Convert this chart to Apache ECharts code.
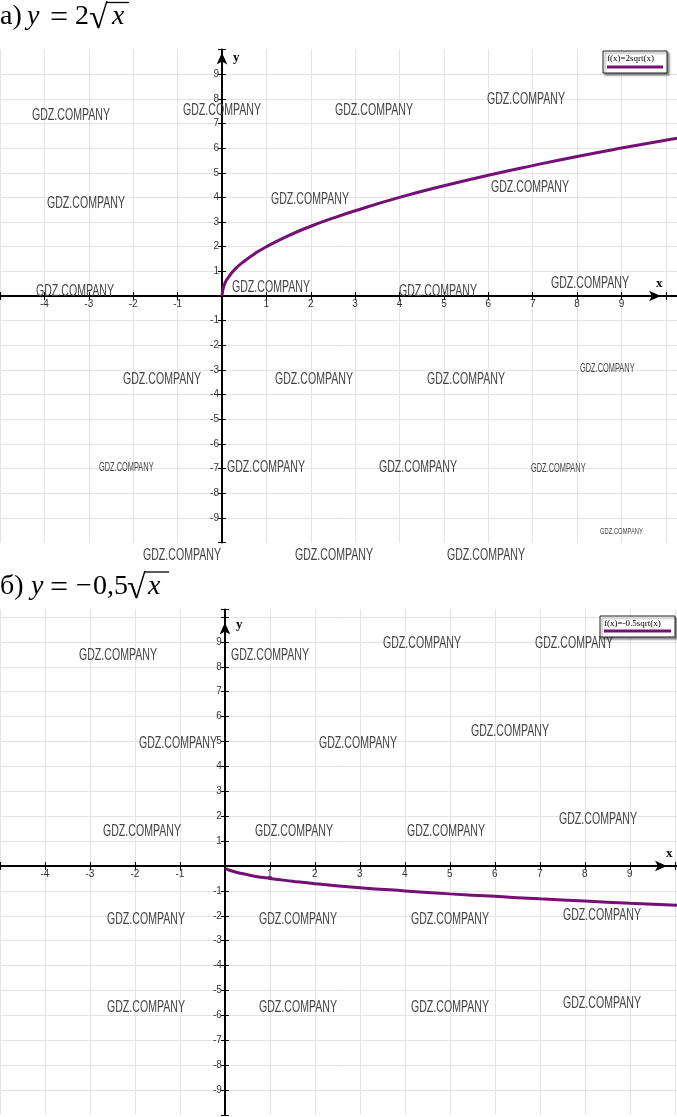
<!DOCTYPE html>
<html>
<head>
<meta charset="utf-8">
<script src="https://cdn.jsdelivr.net/npm/echarts@6/dist/echarts.min.js"></script>
<style>
html, body { margin: 0; padding: 0; background: #fff; }
#chart { width: 677px; height: 1117px; }
</style>
</head>
<body>
<div id="chart"></div>
<script>
// а) y = 2√x
var xsA = [0, 0.05, 0.15, 0.3, 0.5, 0.75, 1, 1.5, 2, 2.5, 3, 4, 5, 6, 7, 8, 9, 10.25];
var ysA = [0, 0.45, 0.77, 1.1, 1.41, 1.73, 2, 2.45, 2.83, 3.16, 3.46, 4, 4.47, 4.9, 5.29, 5.66, 6, 6.4];

// б) y = -0,5√x
var xsB = [0.02, 0.1, 0.3, 0.6, 1, 1.5, 2, 3, 4, 5, 6, 7, 8, 9, 10.05];
var ysB = [-0.1, -0.17, -0.27, -0.39, -0.5, -0.61, -0.71, -0.87, -1, -1.12, -1.22, -1.32, -1.41, -1.5, -1.58];

// tick labels that are printed
var xLabels = [-4, -3, -2, -1, 1, 2, 3, 4, 5, 6, 7, 8, 9];
var yLabels = [-9, -8, -7, -6, -5, -4, -3, -2, -1, 1, 2, 3, 4, 5, 6, 7, 8, 9];

var legendNames = ['f(x)=2sqrt(x)', 'f(x)=-0.5sqrt(x)'];

// watermark spots: [left, middle y, size]
var marks = [
  [32, 115, 1], [183, 110, 1], [335, 110, 1], [487, 99, 1],
  [47, 203, 1], [271, 199, 1], [491, 187, 1],
  [36, 291, 1], [232, 287, 1], [399, 291, 1], [551, 283, 1],
  [123, 379, 1], [275, 379, 1], [427, 379, 1], [580, 369, 0.7],
  [99, 468, 0.7], [227, 467, 1], [379, 467, 1], [531, 469, 0.7],
  [600, 531, 0.55],
  [143, 555, 1], [295, 555, 1], [447, 555, 1],
  [79, 655, 1], [231, 655, 1], [383, 643, 1], [535, 643, 1],
  [139, 743, 1], [319, 743, 1], [471, 731, 1],
  [103, 831, 1], [255, 831, 1], [407, 831, 1], [559, 819, 1],
  [107, 919, 1], [259, 919, 1], [411, 919, 1], [563, 915, 1],
  [107, 1007, 1], [259, 1007, 1], [411, 1007, 1], [563, 1003, 1]
];

var W = 677;
var AXIS = '#000';
var GRIDC = '#e4e4e4';
var CURVE = '#740f74';
var tickFont = 'Liberation Sans Narrow, Liberation Sans, sans-serif';
var serif = 'Liberation Serif, DejaVu Serif, serif';

// panel geometry
var panels = [
  { top: 49.5, height: 493, xMin: -5, xMax: 10.25, yMin: -10, yMax: 10, xArrow: -16, yArrow: -3 },
  { top: 609.5, height: 505.5, xMin: -5, xMax: 10.05, yMin: -10, yMax: 10.3, xArrow: -10, yArrow: -13 }
];

function pairs(xs, ys) {
  return xs.map(function (x, i) { return [x, ys[i]]; });
}

var grids = [], xAxes = [], yAxes = [];
panels.forEach(function (p, g) {
  var zeroX = W * (0 - p.xMin) / (p.xMax - p.xMin);
  var zeroY = p.top + p.height * (p.yMax - 0) / (p.yMax - p.yMin);
  grids.push({ left: 0, right: 0, top: p.top, height: p.height, outerBoundsMode: 'none' });
  var tick = { length: 4, lineStyle: { color: AXIS, width: 1 } };
  var xBase = { gridIndex: g, type: 'value', min: p.xMin, max: p.xMax, interval: 1 };
  var yBase = { gridIndex: g, type: 'value', min: p.yMin, max: p.yMax, interval: 1 };
  xAxes.push(Object.assign({}, xBase, {
    position: 'bottom', offset: -(p.top + p.height - zeroY),
    axisLine: { onZero: false, lineStyle: { color: AXIS, width: 2 },
      symbol: ['none', 'arrow'], symbolSize: [8, 12], symbolOffset: [0, p.xArrow] },
    axisTick: tick,
    axisLabel: { margin: 3, color: '#333', fontSize: 10, fontFamily: tickFont,
      formatter: function (v) { return xLabels.indexOf(v) >= 0 ? String(v) : ''; } },
    splitLine: { show: true, lineStyle: { color: GRIDC, width: 1 } }
  }));
  xAxes.push(Object.assign({}, xBase, {
    position: 'top', offset: -(zeroY - p.top),
    axisLine: { onZero: false, show: false },
    axisTick: tick, axisLabel: { show: false }, splitLine: { show: false }
  }));
  yAxes.push(Object.assign({}, yBase, {
    position: 'left', offset: -zeroX,
    axisLine: { onZero: false, lineStyle: { color: AXIS, width: 2 },
      symbol: ['none', 'arrow'], symbolSize: [8, 12], symbolOffset: [0, p.yArrow] },
    axisTick: tick,
    axisLabel: { margin: 3, color: '#333', fontSize: 10, fontFamily: tickFont,
      formatter: function (v) { return yLabels.indexOf(v) >= 0 ? String(v) : ''; } },
    splitLine: { show: true, showMinLine: false, showMaxLine: false, lineStyle: { color: GRIDC, width: 1 } }
  }));
  yAxes.push(Object.assign({}, yBase, {
    position: 'right', offset: -(W - zeroX),
    axisLine: { onZero: false, show: false },
    axisTick: tick, axisLabel: { show: false }, splitLine: { show: false }
  }));
});

// measure watermark text so it can be squeezed to the narrow look
var ctx = document.createElement('canvas').getContext('2d');
var wmFont = '17px ' + tickFont;
ctx.font = wmFont;
var wmW = ctx.measureText('GDZ.COMPANY').width;

var graphics = [];
marks.forEach(function (m) {
  var s = m[2];
  graphics.push({
    type: 'text', x: m[0], y: m[1], scaleX: 78 * s / wmW, scaleY: s, z: 50, silent: true,
    style: { text: 'GDZ.COMPANY', fill: '#444', font: wmFont, textAlign: 'left', textVerticalAlign: 'middle' }
  });
});

// formula headings, piece by piece: [text, left, italic, size]
function heading(y, pieces, bar) {
  pieces.forEach(function (pc) {
    graphics.push({
      type: 'text', x: pc[1], y: y + (pc[3] > 28 ? 2 : 0), z: 60,
      style: { text: pc[0], fill: '#000', textVerticalAlign: 'middle',
        font: (pc[2] ? 'italic ' : '') + pc[3] + 'px ' + serif }
    });
  });
  graphics.push({ type: 'line', z: 60, shape: { x1: bar[0], y1: bar[2], x2: bar[1], y2: bar[2] },
    style: { stroke: '#000', lineWidth: 1.3 } });
}
heading(17, [['а)', 0, false, 28], ['y', 27, true, 28], ['=', 50, false, 32], ['2', 75, false, 28],
  ['√', 89, false, 34], ['x', 112, true, 28]], [106, 129, 2.5]);
heading(587, [['б)', 0, false, 28], ['y', 31, true, 28], ['=', 50, false, 32], ['−', 76, false, 28],
  ['0,5', 93, false, 28], ['√', 127, false, 34], ['x', 148, true, 28]], [144, 169, 572]);

function legendBox(x, y, w, h, text) {
  graphics.push({ type: 'rect', z: 60, shape: { x: x, y: y, width: w, height: h },
    style: { fill: '#fff', stroke: '#222', lineWidth: 1, shadowColor: 'rgba(0,0,0,0.45)', shadowOffsetX: 2, shadowOffsetY: 2, shadowBlur: 2 } });
  graphics.push({ type: 'text', z: 61, x: x + 4, y: y + 8,
    style: { text: text, font: '9px ' + serif, fill: '#000', textVerticalAlign: 'middle' } });
  graphics.push({ type: 'line', z: 61, shape: { x1: x + 4, y1: y + h - 6, x2: x + w - 4, y2: y + h - 6 },
    style: { stroke: CURVE, lineWidth: 3 } });
}
legendBox(603, 51, 64, 22, legendNames[0]);
legendBox(600, 616, 75, 21, legendNames[1]);

function axisLetter(x, y, t) {
  graphics.push({ type: 'text', z: 60, x: x, y: y,
    style: { text: t, font: 'bold 13px ' + serif, fill: '#000', textVerticalAlign: 'middle' } });
}
axisLetter(656, 284, 'x');
axisLetter(233, 58, 'y');
axisLetter(666, 854, 'x');
axisLetter(236, 625, 'y');

var chart = echarts.init(document.getElementById('chart'));
chart.setOption({
  animation: false,
  backgroundColor: '#fff',
  grid: grids,
  xAxis: xAxes,
  yAxis: yAxes,
  series: [
    { type: 'line', xAxisIndex: 0, yAxisIndex: 0, data: pairs(xsA, ysA), smooth: true,
      showSymbol: false, lineStyle: { color: CURVE, width: 3 }, z: 5 },
    { type: 'line', xAxisIndex: 2, yAxisIndex: 2, data: pairs(xsB, ysB), smooth: true,
      showSymbol: false, lineStyle: { color: CURVE, width: 3 }, z: 5 }
  ],
  graphic: graphics
});
</script>
</body>
</html>
